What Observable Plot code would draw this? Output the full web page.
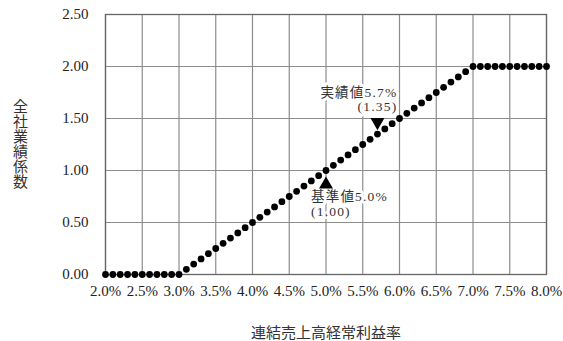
<!DOCTYPE html>
<html>
<head>
<meta charset="utf-8">
<script src="https://cdn.jsdelivr.net/npm/d3@7"></script>
<script src="https://cdn.jsdelivr.net/npm/@observablehq/plot@0.6"></script>
<style>
  html, body { margin: 0; padding: 0; background: #fff; }
  #chart { width: 563px; height: 341px; }
  g[aria-description="anno"] text { letter-spacing: 1.2px; }
</style>
</head>
<body>
<div id="chart"></div>
<script>
// Data
const rates = [2.0,2.1,2.2,2.3,2.4,2.5,2.6,2.7,2.8,2.9,3.0,3.1,3.2,3.3,3.4,3.5,3.6,3.7,3.8,3.9,4.0,4.1,4.2,4.3,4.4,4.5,4.6,4.7,4.8,4.9,5.0,5.1,5.2,5.3,5.4,5.5,5.6,5.7,5.8,5.9,6.0,6.1,6.2,6.3,6.4,6.5,6.6,6.7,6.8,6.9,7.0,7.1,7.2,7.3,7.4,7.5,7.6,7.7,7.8,7.9,8.0];
const coefs = [0,0,0,0,0,0,0,0,0,0,0,
  0.05,0.10,0.15,0.20,0.25,0.30,0.35,0.40,0.45,0.50,
  0.55,0.60,0.65,0.70,0.75,0.80,0.85,0.90,0.95,1.00,
  1.05,1.10,1.15,1.20,1.25,1.30,1.35,1.40,1.45,1.50,
  1.55,1.60,1.65,1.70,1.75,1.80,1.85,1.90,1.95,2.00,
  2.00,2.00,2.00,2.00,2.00,2.00,2.00,2.00,2.00,2.00];

const xTicks = [2.0,2.5,3.0,3.5,4.0,4.5,5.0,5.5,6.0,6.5,7.0,7.5,8.0];
const xTickLabels = ["2.0%","2.5%","3.0%","3.5%","4.0%","4.5%","5.0%","5.5%","6.0%","6.5%","7.0%","7.5%","8.0%"];
const yTicks = [0,0.5,1.0,1.5,2.0,2.5];
const yTickLabels = ["0.00","0.50","1.00","1.50","2.00","2.50"];

const baseX = [5.0], baseY = [1.00], baseLabel = ["基準値5.0%\n(1.00)"];
const actX = [5.7], actY = [1.35], actLabel = ["実績値5.7%"], actSub = ["(1.35)"];

const xLabel = "連結売上高経常利益率";
const yLabel = "全社業績係数";

const points = rates.map((r, i) => ({rate: r, coef: coefs[i]}));
const base = baseX.map((x, i) => ({x, y: baseY[i], label: baseLabel[i]}));
const act = actX.map((x, i) => ({x, y: actY[i], label: actLabel[i], sub: actSub[i]}));

const FONT = "'Liberation Serif', 'DejaVu Serif', 'Noto Sans CJK JP', serif";
const TXT = "#333";

const chart = Plot.plot({
  width: 563,
  height: 341,
  marginLeft: 105,
  marginRight: 17,
  marginTop: 14,
  marginBottom: 67,
  style: {fontFamily: FONT, fontSize: "15px", color: "#222", background: "#fff"},
  x: {domain: [2, 8], ticks: xTicks, tickFormat: d => xTickLabels[xTicks.indexOf(d)] ?? "", label: null, tickSize: 0, tickPadding: 11},
  y: {domain: [0, 2.5], ticks: yTicks, tickFormat: d => yTickLabels[yTicks.indexOf(d)] ?? "", label: null, tickSize: 0, tickPadding: 17},
  marks: [
    Plot.gridX(xTicks, {stroke: "#8c8c8c", strokeOpacity: 1, strokeWidth: 1.2}),
    Plot.gridY(yTicks, {stroke: "#8c8c8c", strokeOpacity: 1, strokeWidth: 1.2}),
    Plot.frame({stroke: "#666", strokeWidth: 1.3}),
    // annotation labels with white background halo
    Plot.text(base, {x: "x", y: "y", text: "label", textAnchor: "start", lineAnchor: "top", dx: -15, dy: 20, lineHeight: 1.1,
      fontSize: 13.5, fill: TXT, stroke: "white", strokeWidth: 6, ariaDescription: "anno"}),
    Plot.text(act, {x: "x", y: "y", text: "label", textAnchor: "end", dx: 20, dy: -41,
      fontSize: 13.5, fill: TXT, stroke: "white", strokeWidth: 6, ariaDescription: "anno"}),
    Plot.text(act, {x: "x", y: "y", text: "sub", textAnchor: "end", dx: 20, dy: -27,
      fontSize: 13.5, fill: TXT, stroke: "white", strokeWidth: 6, ariaDescription: "anno"}),
    Plot.dot(points, {x: "rate", y: "coef", r: 3.4, fill: "black", stroke: "none"}),
    Plot.dot(base, {x: "x", y: "y", symbol: "triangle", r: 5.2, fill: "black", stroke: "none", dy: 14}),
    Plot.dot(act, {x: "x", y: "y", symbol: "triangle", r: 5.2, rotate: 180, fill: "black", stroke: "none", dy: -12}),
    // axis titles
    Plot.text([xLabel], {frameAnchor: "bottom", dy: 59, fontSize: 15, fill: TXT, lineAnchor: "middle"}),
    Plot.text([yLabel.split("").join("\n")], {frameAnchor: "left", dx: -85, fontSize: 15, lineHeight: 1.0, fill: TXT, lineAnchor: "middle", textAnchor: "middle"})
  ]
});
document.getElementById("chart").appendChild(chart);
</script>
</body>
</html>
